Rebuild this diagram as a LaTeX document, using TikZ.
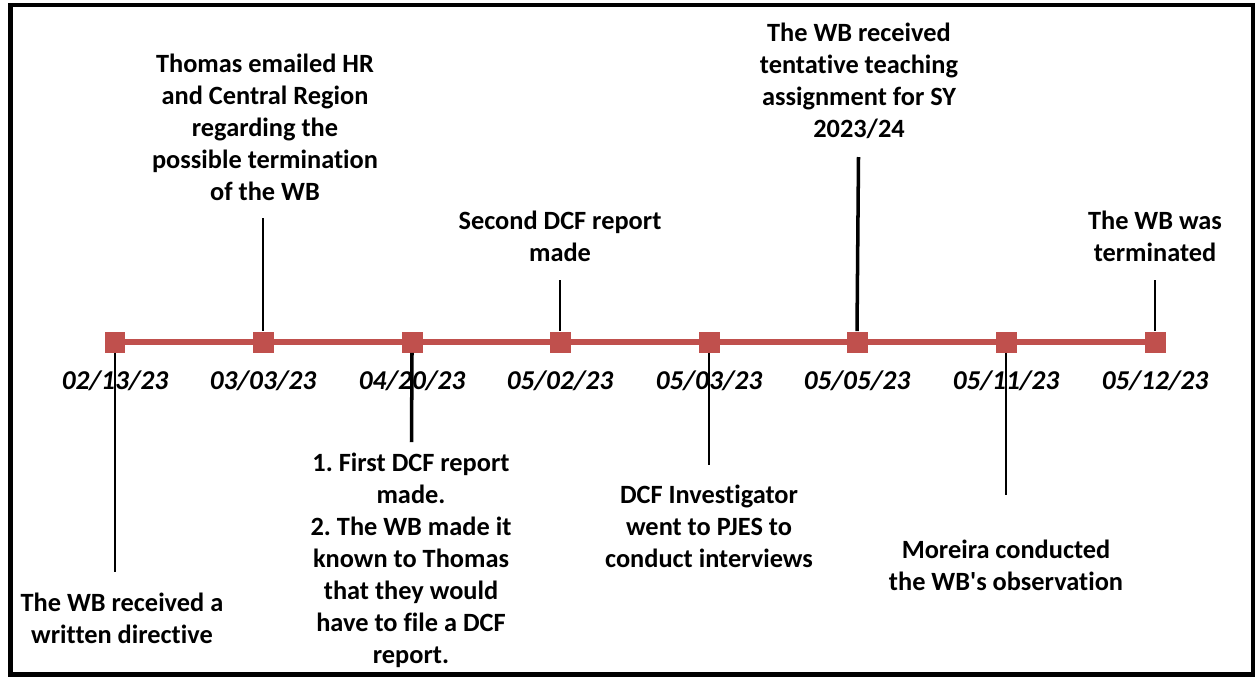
\documentclass[tikz,border=0pt]{standalone}
\usepackage{fontspec}
\setmainfont{Carlito}[Ligatures = {TeX, NoCommon}]
\frenchspacing
\usetikzlibrary{positioning}
\definecolor{tlred}{HTML}{C0504D}

\begin{document}
\begin{tikzpicture}[x = 0.02cm, y = -0.02cm,
    font = \fontsize{15}{18.2}\selectfont\bfseries,
    marker/.style = {fill = tlred, inner sep = 0pt, minimum size = 0.42cm},
    datelabel/.style = {font = \fontsize{15.5}{18.2}\selectfont\bfseries\itshape, inner sep = 0pt},
    event/.style = {align = center, inner sep = 0pt},
    timeline/.style = {tlred, line width = 3.4pt}]

    \useasboundingbox (0,0) rectangle (1257,677);
    \draw[line width = 2.5pt] (10.5,5) rectangle (1253,674.5);

    \def\Yline{342}
    \def\Ydate{381}

    % the axis with its dates
    \foreach \N/\X in {1/115, 2/263, 3/412, 4/560, 5/709, 6/857, 7/1006, 8/1155}
        {\coordinate (T\N) at (\X,\Yline);}
    \draw[timeline] (T1) -- (T8);

    \foreach \N/\DATE in {1/{02/13/23}, 2/{03/03/23}, 3/{04/20/23}, 4/{05/02/23},
                          5/{05/03/23}, 6/{05/05/23}, 7/{05/11/23}, 8/{05/12/23}}{
        \node[marker] (M\N) at (T\N) {};
        \node[datelabel] (D\N) at ([yshift = -0.78cm]T\N) {\DATE};
    }

    % events
    \foreach \N/\X/\Y/\TXT in {
        1/122/618/{The WB received a\\written directive},
        2/265/127/{Thomas emailed HR\\and Central Region\\regarding the\\possible termination\\of the WB},
        3/411/560/{1. First DCF report\\made.\\2. The WB made it\\known to Thomas\\that they would\\have to file a DCF\\report.},
        4/560/236.5/{Second DCF report\\made},
        5/709/526/{DCF Investigator\\went to PJES to\\conduct interviews},
        6/859/80.5/{The WB received\\tentative teaching\\assignment for SY\\2023/24},
        7/1006/565/{Moreira conducted\\the WB\textquotesingle s observation},
        8/1155/236.5/{The WB was\\terminated}}
        {\node[event] (E\N) at (\X,\Y) {\TXT};}

    % stems
    \foreach \N/\ANCHOR/\X/\Y/\W in {1/south/115/572/1.1pt, 2/north/263/218/1.4pt,
                                     3/south/411.5/442/2pt, 4/north/560/280/1.3pt,
                                     5/south/709/465/1.1pt, 6/north/858.5/157/2pt,
                                     7/south/1006/495/1.2pt, 8/north/1155/280/1.2pt}{
        \coordinate (S\N) at (\X,\Y);
        \draw[line width = \W] (M\N.\ANCHOR) -- (S\N);
    }

\end{tikzpicture}
\end{document}
